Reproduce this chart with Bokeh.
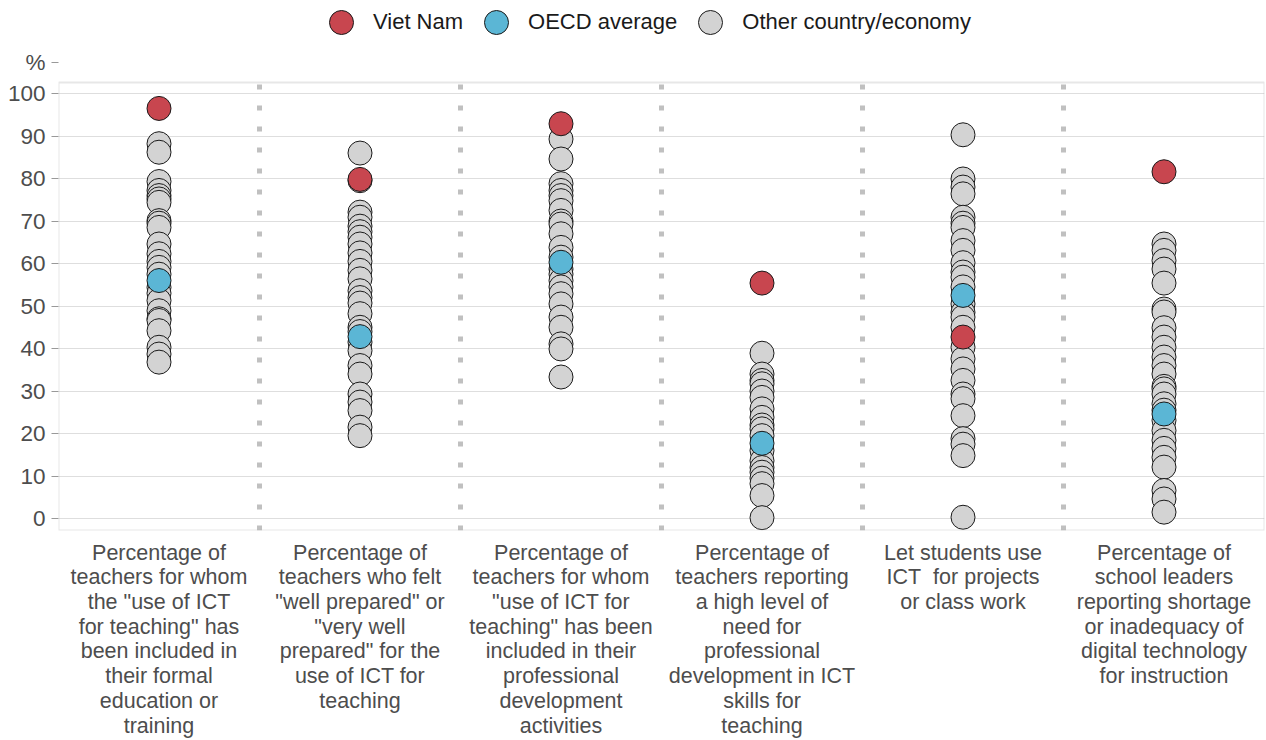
from bokeh.plotting import figure
from bokeh.models import FixedTicker, Range1d, Legend, LegendItem, BoxAnnotation
from bokeh.embed import file_html
from bokeh.resources import INLINE

categories = [
    "Percentage of\nteachers for whom\nthe \"use of ICT\nfor teaching\" has\nbeen included in\ntheir formal\neducation or\ntraining",
    "Percentage of\nteachers who felt\n\"well prepared\" or\n\"very well\nprepared\" for the\nuse of ICT for\nteaching",
    "Percentage of\nteachers for whom\n\"use of ICT for\nteaching\" has been\nincluded in their\nprofessional\ndevelopment\nactivities",
    "Percentage of\nteachers reporting\na high level of\nneed for\nprofessional\ndevelopment in ICT\nskills for\nteaching",
    "Let students use\nICT\u00a0 for projects\nor class work",
    "Percentage of\nschool leaders\nreporting shortage\nor inadequacy of\ndigital technology\nfor instruction",
]

viet_nam = [96.5, 79.8, 92.9, 55.4, 42.7, 81.6]
oecd_average = [56.0, 42.8, 60.3, 17.7, 52.5, 24.6]

others_1 = [88.2, 86.2, 79.3, 77.2, 76.0, 75.2, 74.4, 70.1, 69.5, 68.5, 64.6, 62.3, 60.5,
            59.1, 57.5, 54.4, 53.0, 51.3, 48.9, 47.0, 46.6, 44.2, 40.3, 38.7, 36.8]
others_2 = [86.0, 79.5, 72.1, 70.9, 68.8, 67.5, 66.2, 64.6, 62.5, 60.5, 58.4, 56.4, 53.6,
            52.0, 50.7, 48.2, 45.0, 44.0, 41.5, 39.5, 36.0, 34.0, 29.3, 27.4, 25.4, 21.5, 19.5]
others_3 = [89.3, 84.6, 78.8, 77.2, 76.0, 74.8, 72.5, 70.0, 69.3, 67.0, 63.8, 61.5, 58.7,
            57.5, 56.0, 54.5, 52.9, 50.5, 47.4, 45.0, 41.1, 39.9, 33.3]
others_4 = [38.9, 34.0, 32.5, 31.7, 30.0, 28.5, 25.8, 23.8, 22.0, 21.1, 19.5, 16.0, 13.6,
            12.0, 10.9, 9.5, 8.2, 5.4, 0.2]
others_5 = [90.3, 79.9, 78.0, 76.4, 70.9, 69.5, 68.5, 65.4, 63.1, 60.2, 58.0, 56.8, 54.5,
            50.5, 48.5, 47.4, 45.0, 40.3, 37.6, 35.2, 32.5, 29.3, 28.2, 24.2, 18.8, 17.5, 14.8, 0.3]
others_6 = [64.6, 63.1, 60.7, 58.7, 55.4, 49.3, 48.6, 44.9, 42.7, 40.3, 38.0, 36.0, 34.0,
            31.1, 30.5, 29.3, 27.0, 25.5, 23.1, 20.7, 18.4, 16.5, 14.4, 12.1, 6.6, 4.6, 1.5]
others = [others_1, others_2, others_3, others_4, others_5, others_6]

y_ticks = list(range(0, 101, 10))
unit_label = "%"

RED = "#C8464F"
BLUE = "#5BB6D5"
GRAY = "#D3D3D3"
OUTLINE = "#1a1a1a"
FONT = "Liberation Sans"

n = len(categories)
centers = [i + 0.5 for i in range(n)]
Y_LO, Y_HI = -2.82, 102.6          # visible panel box
Y_TOP = 121.9                      # frame extends up to the canvas top (legend area)
UNIT_POS = 107.3                   # where the "%" unit sits above the axis

p = figure(frame_width=1206, frame_height=530, output_backend="svg", toolbar_location=None,
           x_range=Range1d(0, n), y_range=Range1d(Y_LO, Y_TOP),
           min_border_left=58, min_border_right=2, min_border_top=0, min_border_bottom=0)
p.background_fill_color = "white"
p.border_fill_color = "white"
p.outline_line_color = None

# panel box
p.add_layout(BoxAnnotation(left=0, right=n, bottom=Y_LO, top=Y_HI, fill_alpha=0,
                           line_color="#b0b0b0", line_width=2, level="overlay"))

# dotted separators between categories
sep_x = list(range(1, n))
p.segment(x0=sep_x, y0=[Y_LO] * len(sep_x), x1=sep_x, y1=[Y_HI] * len(sep_x),
          line_color="#c0c0c0", line_width=5, line_dash="5 16", level="underlay")

ox, oy = [], []
for c, vals in zip(centers, others):
    ox.extend([c] * len(vals))
    oy.extend(vals)

r_other = p.scatter(ox, oy, size=24, fill_color=GRAY, line_color=OUTLINE, line_width=1)
r_oecd = p.scatter(centers, oecd_average, size=24, fill_color=BLUE, line_color=OUTLINE, line_width=1)
r_vn = p.scatter(centers, viet_nam, size=24, fill_color=RED, line_color=OUTLINE, line_width=1)

# axes
p.xgrid.grid_line_color = None
p.ygrid.ticker = FixedTicker(ticks=y_ticks)
p.ygrid.grid_line_color = "#dedede"
p.ygrid.grid_line_width = 1

p.yaxis.ticker = FixedTicker(ticks=y_ticks + [UNIT_POS])
p.yaxis.major_label_overrides = {UNIT_POS: unit_label}
p.yaxis.axis_line_color = None
p.yaxis.major_tick_out = 7
p.yaxis.major_tick_in = 0
p.yaxis.major_tick_line_color = "#999999"
p.yaxis.minor_tick_line_color = None
p.yaxis.major_label_standoff = 6
p.yaxis.major_label_text_font = FONT
p.yaxis.major_label_text_font_size = "22.5px"
p.yaxis.major_label_text_color = "#4d4d4d"

p.xaxis.ticker = FixedTicker(ticks=centers)
p.xaxis.major_label_overrides = {c: lab for c, lab in zip(centers, categories)}
p.xaxis.axis_line_color = None
p.xaxis.major_tick_out = 0
p.xaxis.major_tick_in = 0
p.xaxis.minor_tick_line_color = None
p.xaxis.major_label_standoff = 10
p.xaxis.major_label_text_font = FONT
p.xaxis.major_label_text_font_size = "21.5px"
p.xaxis.major_label_text_color = "#4d4d4d"
p.xaxis.major_label_text_line_height = 1.03

legend = Legend(items=[LegendItem(label="Viet Nam", renderers=[r_vn]),
                       LegendItem(label="OECD average", renderers=[r_oecd]),
                       LegendItem(label="Other country/economy", renderers=[r_other])],
                location=(253, 478), orientation="horizontal",
                glyph_width=60, glyph_height=60, label_standoff=2, spacing=3,
                padding=0, margin=0, background_fill_alpha=0, border_line_color=None,
                label_text_font=FONT, label_text_font_size="22px",
                label_text_color="#1a1a1a")
p.add_layout(legend)

open("out.html", "w").write(file_html(p, INLINE))
